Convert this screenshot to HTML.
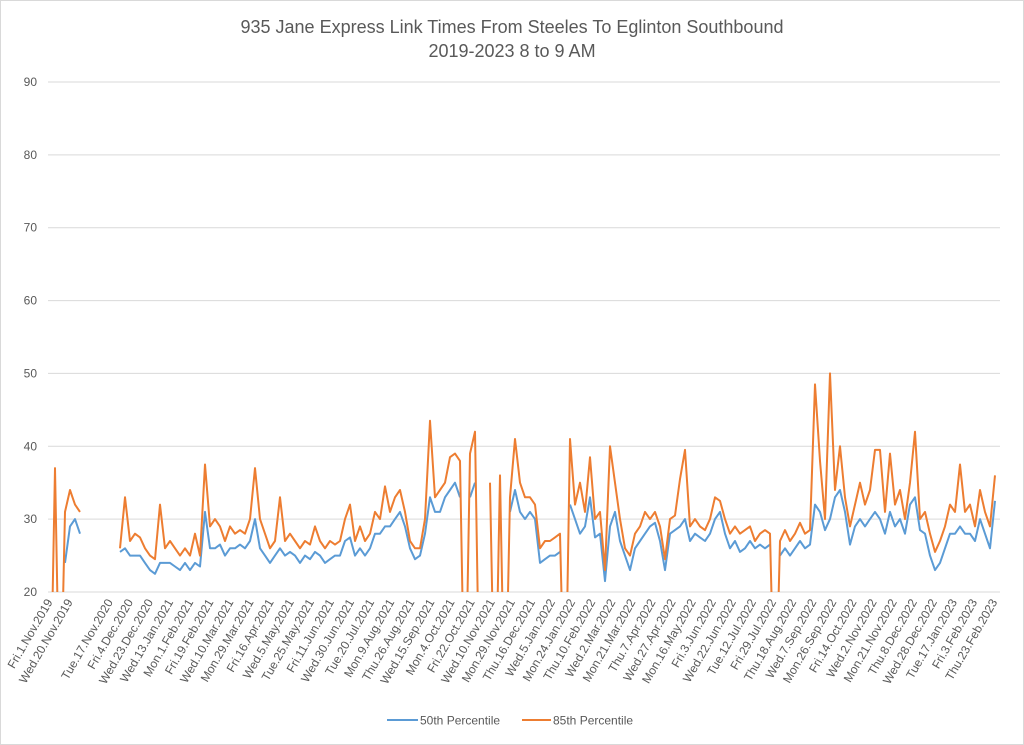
<!DOCTYPE html>
<html><head><meta charset="utf-8"><style>
body{margin:0;background:#fff;}
svg{display:block;font-family:"Liberation Sans",sans-serif;}
</style></head><body>
<svg id="chart" width="1024" height="745" viewBox="0 0 1024 745" xmlns="http://www.w3.org/2000/svg">
<rect x="0.5" y="0.5" width="1023" height="744" fill="#fff" stroke="#d9d9d9"/>
<text x="512" y="33" text-anchor="middle" font-size="18" fill="#595959">935 Jane Express Link Times From Steeles To Eglinton Southbound</text>
<text x="512" y="57" text-anchor="middle" font-size="18" fill="#595959">2019-2023 8 to 9 AM</text>
<defs><clipPath id="plotclip"><rect x="45" y="70" width="960" height="522"/></clipPath></defs>
<g id="grid"></g>
<g id="yticks"></g>
<g id="xticks"></g>
<g id="series" clip-path="url(#plotclip)"></g>
<g>
<g><line x1="387" y1="720" x2="418" y2="720" stroke="#5b9bd5" stroke-width="2"/><text x="420" y="724.5" font-size="12" fill="#595959">50th Percentile</text></g>
<g><line x1="522" y1="720" x2="551" y2="720" stroke="#ed7d31" stroke-width="2"/><text x="553" y="724.5" font-size="12" fill="#595959">85th Percentile</text></g>
</g>
</svg>
<script>
const yTicks=[20,30,40,50,60,70,80,90];
const xLabels=["Fri.1.Nov.2019","Wed.20.Nov.2019","Tue.17.Nov.2020","Fri.4.Dec.2020","Wed.23.Dec.2020","Wed.13.Jan.2021","Mon.1.Feb.2021","Fri.19.Feb.2021","Wed.10.Mar.2021","Mon.29.Mar.2021","Fri.16.Apr.2021","Wed.5.May.2021","Tue.25.May.2021","Fri.11.Jun.2021","Wed.30.Jun.2021","Tue.20.Jul.2021","Mon.9.Aug.2021","Thu.26.Aug.2021","Wed.15.Sep.2021","Mon.4.Oct.2021","Fri.22.Oct.2021","Wed.10.Nov.2021","Mon.29.Nov.2021","Thu.16.Dec.2021","Wed.5.Jan.2022","Mon.24.Jan.2022","Thu.10.Feb.2022","Wed.2.Mar.2022","Mon.21.Mar.2022","Thu.7.Apr.2022","Wed.27.Apr.2022","Mon.16.May.2022","Fri.3.Jun.2022","Wed.22.Jun.2022","Tue.12.Jul.2022","Fri.29.Jul.2022","Thu.18.Aug.2022","Wed.7.Sep.2022","Mon.26.Sep.2022","Fri.14.Oct.2022","Wed.2.Nov.2022","Mon.21.Nov.2022","Thu.8.Dec.2022","Wed.28.Dec.2022","Tue.17.Jan.2023","Fri.3.Feb.2023","Thu.23.Feb.2023"];
const xLabelSlots=[0,1,3,4,5,6,7,8,9,10,11,12,13,14,15,16,17,18,19,20,21,22,23,24,25,26,27,28,29,30,31,32,33,34,35,36,37,38,39,40,41,42,43,44,45,46,47];
const p85=[0,37,0,31,34,32,31,null,null,null,null,null,null,null,26,33,27,28,27.5,26,25,24.5,32,26,27,26,25,26,25,28,25,37.5,29,30,29,27,29,28,28.5,28,30,37,30,28,26,27,33,27,28,27,26,27,26.5,29,27,26,27,26.5,27,30,32,27,29,27,28,31,30,34.5,31,33,34,31,27,26,26,30,43.5,33,34,35,38.5,39,38,0,39,42,0,null,35,0,36,0,33,41,35,33,33,32,26,27,27,27.5,28,0,41,32,35,31,38.5,30,31,23,40,35,30,26,25,28,29,31,30,31,29,24.5,30,30.5,35.5,39.5,29,30,29,28.5,30,33,32.5,30,28,29,28,28.5,29,27,28,28.5,28,0,27,28.5,27,28,29.5,28,28.5,48.5,38,30,50,34,40,33,29,32,35,32,34,39.5,39.5,31,39,32,34,30,35,42,30,31,28,25.5,27,29,32,31,37.5,31,32,29,34,31,29,36];
const p50=[null,null,null,24,29,30,28,null,null,null,null,null,null,null,25.5,26,25,25,25,24,23,22.5,24,24,24,23.5,23,24,23,24,23.5,31,26,26,26.5,25,26,26,26.5,26,27,30,26,25,24,25,26,25,25.5,25,24,25,24.5,25.5,25,24,24.5,25,25,27,27.5,25,26,25,26,28,28,29,29,30,31,29,26,24.5,25,28,33,31,31,33,34,35,33,null,33,35,null,null,34,null,33,null,31,34,31,30,31,30,24,24.5,25,25,25.5,null,32,30,28,29,33,27.5,28,21.5,29,31,27,25,23,26,27,28,29,29.5,27,23,28,28.5,29,30,27,28,27.5,27,28,30,31,28,26,27,25.5,26,27,26,26.5,26,26.5,null,25,26,25,26,27,26,26.5,32,31,28.5,30,33,34,31,26.5,29,30,29,30,31,30,28,31,29,30,28,32,33,28.5,28,25,23,24,26,28,28,29,28,28,27,30,28,26,32.5];
const ns='http://www.w3.org/2000/svg';
const X0=50,DX=5,SLOTW=20.1;
function yScale(v){return 592-(v-20)*(510/70);}
function xScale(i){return X0+i*DX;}
function slotX(s){return X0+s*SLOTW;}
const grid=document.getElementById('grid'),yt=document.getElementById('yticks'),xt=document.getElementById('xticks'),ser=document.getElementById('series');
yTicks.forEach(t=>{
 const l=document.createElementNS(ns,'line');
 l.setAttribute('x1',48);l.setAttribute('x2',1000);l.setAttribute('y1',yScale(t));l.setAttribute('y2',yScale(t));
 l.setAttribute('stroke','#d9d9d9');l.setAttribute('stroke-width','1');
 
 
 grid.appendChild(l);
 const tx=document.createElementNS(ns,'text');
 tx.setAttribute('x',37);tx.setAttribute('y',yScale(t)+4);tx.setAttribute('text-anchor','end');
 tx.setAttribute('font-size','12');tx.setAttribute('fill','#595959');tx.textContent=t;
 
 
 yt.appendChild(tx);
});
xLabels.forEach((lab,k)=>{
 const x=slotX(xLabelSlots[k]);
 const tx=document.createElementNS(ns,'text');
 tx.setAttribute('transform','translate('+(x+3)+',602) rotate(-60)');
 tx.setAttribute('text-anchor','end');tx.setAttribute('font-size','12');tx.setAttribute('fill','#595959');
 tx.textContent=lab;
 
 
 xt.appendChild(tx);
});
function drawSeries(vals,color,name){
 let d='',pen=false;
 vals.forEach((v,i)=>{
  if(v===null){pen=false;return;}
  d+=(pen?'L':'M')+xScale(i).toFixed(1)+' '+yScale(v).toFixed(1)+' ';pen=true;
 });
 const p=document.createElementNS(ns,'path');
 p.setAttribute('d',d);p.setAttribute('fill','none');p.setAttribute('stroke',color);
 p.setAttribute('stroke-width','2');p.setAttribute('stroke-linejoin','round');
 
 
 ser.appendChild(p);
}
drawSeries(p50,'#5b9bd5','series-50th-percentile');
drawSeries(p85,'#ed7d31','series-85th-percentile');
</script>
</body></html>
